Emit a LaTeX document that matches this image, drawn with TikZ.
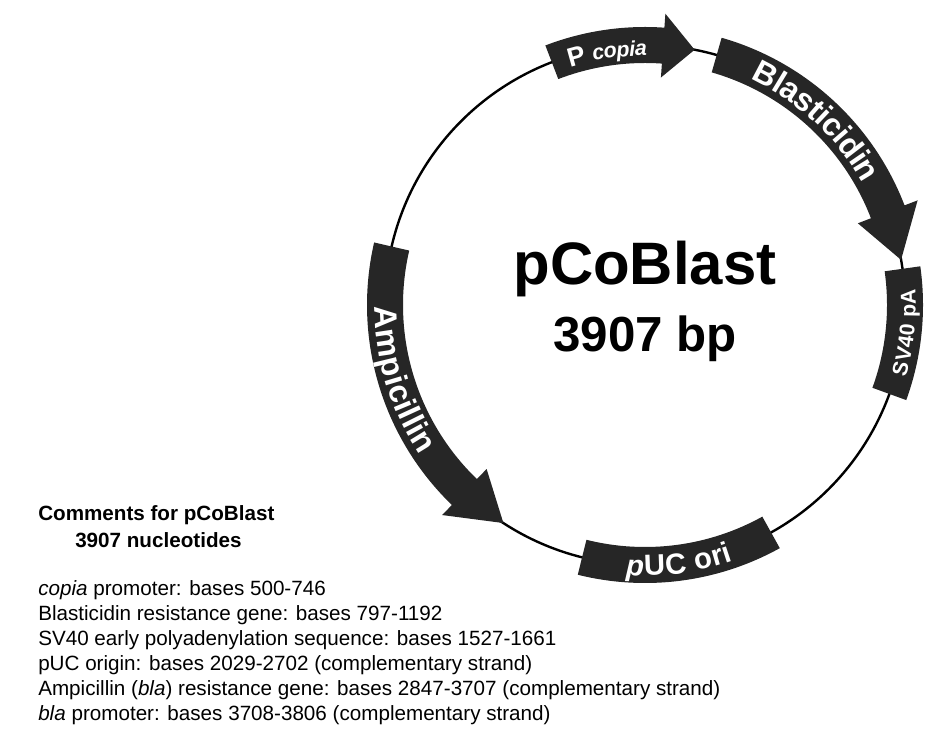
\documentclass[tikz,border=0pt]{standalone}
\usepackage{fontspec}
\setmainfont{Liberation Sans}
\usetikzlibrary{decorations.text}
\tikzset{
  band/.style={fill=black!85},
  bandtext/.style={decorate,decoration={text along path,text align=center,
      text color=white,raise=-8}},
  note/.style={anchor=west,inner sep=0pt,font=\fontsize{15.5}{17}\selectfont}
}
\begin{document}
\begin{tikzpicture}[x=0.0264cm,y=0.0264cm]
	\useasboundingbox (0,0) rectangle (950,743);

	%Map centre and radii of the band
	\pgfmathsetmacro{\R}{260}
	\pgfmathsetmacro{\Ro}{278}
	\pgfmathsetmacro{\Ri}{242}
	\pgfmathsetmacro{\To}{292}
	\pgfmathsetmacro{\Ti}{228}

	\begin{scope}[shift={(645,438)}]
	\draw[line width=1.8pt] (0,0) circle[radius=\R];

	%P copia (clockwise)
	\fill[band] (111:\Ro) arc[start angle=111,end angle=86,radius=\Ro] -- (86:\To)
		-- (79:\R) -- (86:\Ti) -- (86:\Ri) arc[start angle=86,end angle=111,radius=\Ri] -- cycle;
	%Blasticidin (clockwise)
	\fill[band] (74:\Ro) arc[start angle=74,end angle=21,radius=\Ro] -- (21:\To)
		-- (10:\R) -- (21:\Ti) -- (21:\Ri) arc[start angle=21,end angle=74,radius=\Ri] -- cycle;
	%SV40 pA
	\fill[band] (-20:\Ro) arc[start angle=-20,end angle=8,radius=\Ro]
		-- (8:\Ri) arc[start angle=8,end angle=-20,radius=\Ri] -- cycle;
	%pUC ori
	\fill[band] (-104:\Ro) arc[start angle=-104,end angle=-61,radius=\Ro]
		-- (-61:\Ri) arc[start angle=-61,end angle=-104,radius=\Ri] -- cycle;
	%Ampicillin (counter clockwise)
	\fill[band] (167:\Ro) arc[start angle=167,end angle=226,radius=\Ro] -- (226:\To)
		-- (237:\R) -- (226:\Ti) -- (226:\Ri) arc[start angle=226,end angle=167,radius=\Ri] -- cycle;

	%Labels along the band
	\path[bandtext,decoration={text={|\fontsize{20}{20}\selectfont\bfseries|P |\fontsize{16}{16}\selectfont\bfseries\itshape|copia}}]
		(111:\R) arc[start angle=111,end angle=86,radius=\R];
	\path[bandtext,decoration={text={|\fontsize{24}{24}\selectfont\bfseries|Blasticidin}}]
		(74:\R) arc[start angle=74,end angle=20,radius=\R];
	\path[bandtext,decoration={text={|\fontsize{16}{16}\selectfont\bfseries|SV40 pA}}]
		(-20:\R) arc[start angle=-20,end angle=8,radius=\R];
	\path[bandtext,decoration={text={|\fontsize{22}{22}\selectfont\bfseries\itshape|p|\fontsize{22}{22}\selectfont\bfseries|UC ori}}]
		(-104:\R) arc[start angle=-104,end angle=-61,radius=\R];
	\path[bandtext,decoration={text={|\fontsize{24}{24}\selectfont\bfseries|Ampicillin}}]
		(167:\R) arc[start angle=167,end angle=227,radius=\R];

	\node[font=\fontsize{45}{45}\selectfont\bfseries] (name) at (0,36) {pCoBlast};
	\node[font=\fontsize{37}{37}\selectfont\bfseries] (size) at (0,-34) {3907 bp};
	\end{scope}

	%Comments
	\node[note,font=\fontsize{15.5}{17}\selectfont\bfseries] (c0) at (38,228) {Comments for pCoBlast};
	\node[note,font=\fontsize{15.5}{17}\selectfont\bfseries] (c1) at (75,203) {3907 nucleotides};
	\node[note] (c2) at (38,153) {\textit{copia} promoter: bases 500-746};
	\node[note] (c3) at (38,128) {Blasticidin resistance gene: bases 797-1192};
	\node[note] (c4) at (38,103) {SV40 early polyadenylation sequence: bases 1527-1661};
	\node[note] (c5) at (38,78) {pUC origin: bases 2029-2702 (complementary strand)};
	\node[note] (c6) at (38,53) {Ampicillin (\textit{bla}) resistance gene: bases 2847-3707 (complementary strand)};
	\node[note] (c7) at (38,28) {\textit{bla} promoter: bases 3708-3806 (complementary strand)};
\end{tikzpicture}
\end{document}
